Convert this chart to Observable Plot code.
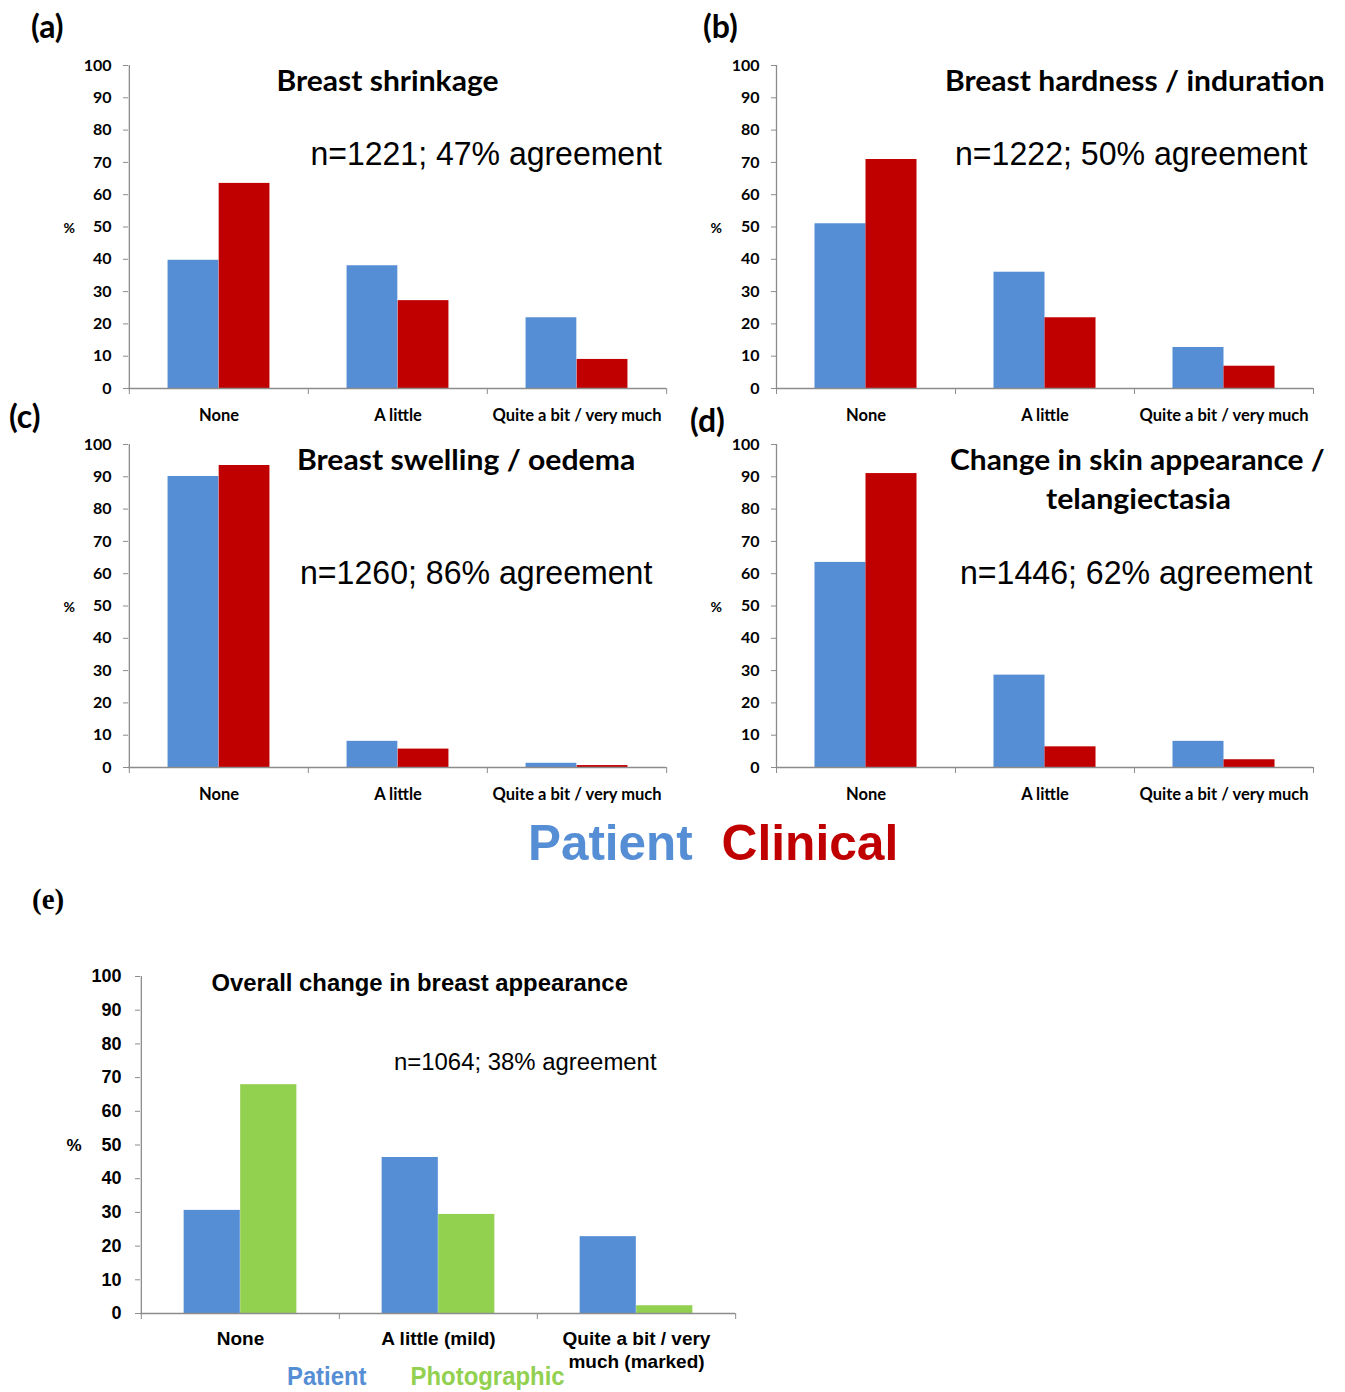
<!DOCTYPE html>
<html>
<head>
<meta charset="utf-8">
<script src="https://cdn.jsdelivr.net/npm/d3@7"></script>
<script src="https://cdn.jsdelivr.net/npm/@observablehq/plot@0.6"></script>
<style>
  body { margin: 0; background: #fff; }
  #fig { position: relative; width: 1345px; height: 1392px; background: #fff; overflow: hidden; }
  .panel { position: absolute; }
  .panel svg { background: transparent !important; max-width: none !important; }
  .abs { position: absolute; white-space: nowrap; line-height: 1; }
</style>
</head>
<body>
<div id="fig"></div>
<script>
// ---------- data ----------
const categories = ["None", "A little", "Quite a bit / very much"];
const series = ["Patient", "Clinical"];
const shrinkagePatient = [39.7, 38.0, 21.9];
const shrinkageClinical = [63.5, 27.2, 9.0];
const hardnessPatient = [51.0, 36.0, 12.7];
const hardnessClinical = [70.9, 21.9, 6.9];
const swellingPatient = [90.1, 8.1, 1.3];
const swellingClinical = [93.5, 5.7, 0.6];
const skinPatient = [63.5, 28.6, 8.1];
const skinClinical = [91.0, 6.4, 2.4];
const overallCategories = ["None", "A little (mild)", "Quite a bit / very\nmuch (marked)"];
const overallSeries = ["Patient", "Photographic"];
const overallPatient = [30.6, 46.3, 22.8];
const overallPhotographic = [67.9, 29.4, 2.3];
const yTicks = [0, 10, 20, 30, 40, 50, 60, 70, 80, 90, 100];
const colors = {Patient: "#558ED5", Clinical: "#C00000", Photographic: "#92D050"};
const axisGray = "#8c8c8c";

const fig = document.getElementById("fig");

function panel(o) {
  const cats = o.cats;
  const step = (o.x1 - o.x0) / cats.length;
  const bw = 0.285 * step;
  const outer = step / 2 - bw;
  const rows = o.seriesNames.map((s, k) => cats.map((c, i) => ({category: c, series: s, value: o.values[k][i]})));
  const chart = Plot.plot({
    width: o.width,
    height: o.height,
    marginLeft: o.x0 - o.left,
    marginRight: o.left + o.width - o.x1,
    marginTop: o.y100 - o.top,
    marginBottom: o.top + o.height - o.y0,
    x: {type: "band", domain: cats, padding: 0},
    y: {domain: [0, 100]},
    style: {background: "transparent", fontFamily: o.font, fontWeight: "bold", fontSize: o.tickSize + "px", overflow: "visible", color: "#000"},
    marks: [
      Plot.barY(rows[0], {x: "category", y: "value", fill: colors[o.seriesNames[0]], insetLeft: outer, insetRight: step / 2}),
      Plot.barY(rows[1], {x: "category", y: "value", fill: colors[o.seriesNames[1]], insetLeft: step / 2, insetRight: outer}),
      Plot.ruleY([0], {stroke: axisGray, strokeWidth: 1.3}),
      Plot.ruleX([cats[0]], {dx: -step / 2, y1: 0, y2: 100, stroke: axisGray, strokeWidth: 1.3}),
      Plot.axisY({ticks: yTicks, tickSize: 5, tickPadding: o.yPad, stroke: axisGray, fill: "#000", fontSize: o.tickSize, fontWeight: "bold", label: null}),
      Plot.axisX({ticks: cats, tickSize: 6, stroke: axisGray, tickFormat: () => "", dx: -step / 2, label: null}),
      Plot.axisX({ticks: [cats[cats.length - 1]], tickSize: 6, stroke: axisGray, tickFormat: () => "", dx: step / 2, label: null}),
      Plot.axisX({ticks: cats, tickSize: 0, tickPadding: o.xPad, fill: "#000", fontSize: o.xSize, fontWeight: "bold", lineHeight: o.lineHeight || 1.2, label: null})
    ]
  });
  const div = document.createElement("div");
  div.className = "panel";
  div.style.left = o.left + "px";
  div.style.top = o.top + "px";
  div.style.width = o.width + "px";
  div.style.height = o.height + "px";
  div.appendChild(chart);
  fig.appendChild(div);
}

function label(text, o) {
  const d = document.createElement("div");
  d.className = "abs";
  d.textContent = text;
  d.style.fontFamily = o.family;
  d.style.fontSize = o.size + "px";
  d.style.fontWeight = o.weight || "normal";
  d.style.color = o.color || "#000";
  fig.appendChild(d);
  const w = d.offsetWidth, h = d.offsetHeight;
  const s = o.w ? o.w / w : 1;
  if (o.x !== undefined) {
    d.style.left = o.x + "px";
    d.style.transformOrigin = "left center";
  } else {
    d.style.left = (o.cx - w / 2) + "px";
    d.style.transformOrigin = "center center";
  }
  d.style.top = (o.cy - h / 2) + "px";
  d.style.transform = `scaleX(${s})`;
}

const lato = "Lato, 'Open Sans', sans-serif";
const arial = "'Liberation Sans', Arial, sans-serif";
const narrow = "'Liberation Sans Narrow', 'Arial Narrow', 'Liberation Sans', sans-serif";
const serif = "'Liberation Serif', 'Times New Roman', serif";

const common = {cats: categories, seriesNames: series, font: lato, tickSize: 16, xSize: 16.5, yPad: 12, xPad: 18};

panel({...common, left: 0, top: 50, width: 680, height: 380, x0: 128, x1: 666, y100: 65, y0: 388, values: [shrinkagePatient, shrinkageClinical]});
panel({...common, left: 680, top: 50, width: 665, height: 380, x0: 776, x1: 1313, y100: 65, y0: 388, values: [hardnessPatient, hardnessClinical]});
panel({...common, left: 0, top: 430, width: 680, height: 380, x0: 128, x1: 666, y100: 444, y0: 767, values: [swellingPatient, swellingClinical]});
panel({...common, left: 680, top: 430, width: 665, height: 380, x0: 776, x1: 1313, y100: 444, y0: 767, values: [skinPatient, skinClinical]});
panel({cats: overallCategories, seriesNames: overallSeries, font: narrow, tickSize: 18, xSize: 19, yPad: 14, xPad: 15, lineHeight: 1.22,
       left: 0, top: 960, width: 760, height: 420, x0: 140, x1: 735, y100: 976, y0: 1313, values: [overallPatient, overallPhotographic]});

// panel letters
label("(a)", {x: 31, cy: 26, size: 32, weight: "bold", family: lato});
label("(b)", {x: 703, cy: 26, size: 32, weight: "bold", family: lato});
label("(c)", {x: 9, cy: 416, size: 32, weight: "bold", family: lato});
label("(d)", {x: 690, cy: 420, size: 32, weight: "bold", family: lato});
label("(e)", {x: 32, cy: 899, size: 29, weight: "bold", family: serif});

// titles
label("Breast shrinkage", {cx: 387, cy: 80, size: 28, weight: "bold", family: lato, w: 222});
label("Breast hardness / induration", {cx: 1135, cy: 80, size: 28, weight: "bold", family: lato, w: 380});
label("Breast swelling / oedema", {cx: 466, cy: 459, size: 28, weight: "bold", family: lato, w: 338});
label("Change in skin appearance /", {cx: 1137, cy: 459, size: 28, weight: "bold", family: lato, w: 375});
label("telangiectasia", {cx: 1138, cy: 498, size: 28, weight: "bold", family: lato, w: 185});

// agreement notes
label("n=1221; 47% agreement", {cx: 486, cy: 153, size: 33, family: arial, w: 351});
label("n=1222; 50% agreement", {cx: 1131, cy: 153, size: 33, family: arial, w: 352});
label("n=1260; 86% agreement", {cx: 476, cy: 572, size: 33, family: arial, w: 352});
label("n=1446; 62% agreement", {cx: 1136, cy: 572, size: 33, family: arial, w: 352});

// % axis titles
label("%", {cx: 69, cy: 228, size: 14, weight: "bold", family: lato});
label("%", {cx: 716, cy: 228, size: 14, weight: "bold", family: lato});
label("%", {cx: 69, cy: 607, size: 14, weight: "bold", family: lato});
label("%", {cx: 716, cy: 607, size: 14, weight: "bold", family: lato});
label("%", {cx: 74, cy: 1145, size: 17, weight: "bold", family: narrow});

// legend a-d
label(series[0], {cx: 610, cy: 843, size: 50, weight: "bold", family: arial, color: colors.Patient, w: 165});
label(series[1], {cx: 810, cy: 843, size: 50, weight: "bold", family: arial, color: colors.Clinical, w: 177});

// panel e text
label("Overall change in breast appearance", {cx: 419, cy: 983, size: 23, weight: "bold", family: narrow, w: 416});
label("n=1064; 38% agreement", {cx: 525, cy: 1062, size: 23, family: narrow, w: 263});
label(overallSeries[0], {cx: 326, cy: 1376, size: 25, weight: "bold", family: narrow, color: colors.Patient, w: 79});
label(overallSeries[1], {cx: 487, cy: 1376, size: 25, weight: "bold", family: narrow, color: colors.Photographic, w: 154});
</script>
</body>
</html>
